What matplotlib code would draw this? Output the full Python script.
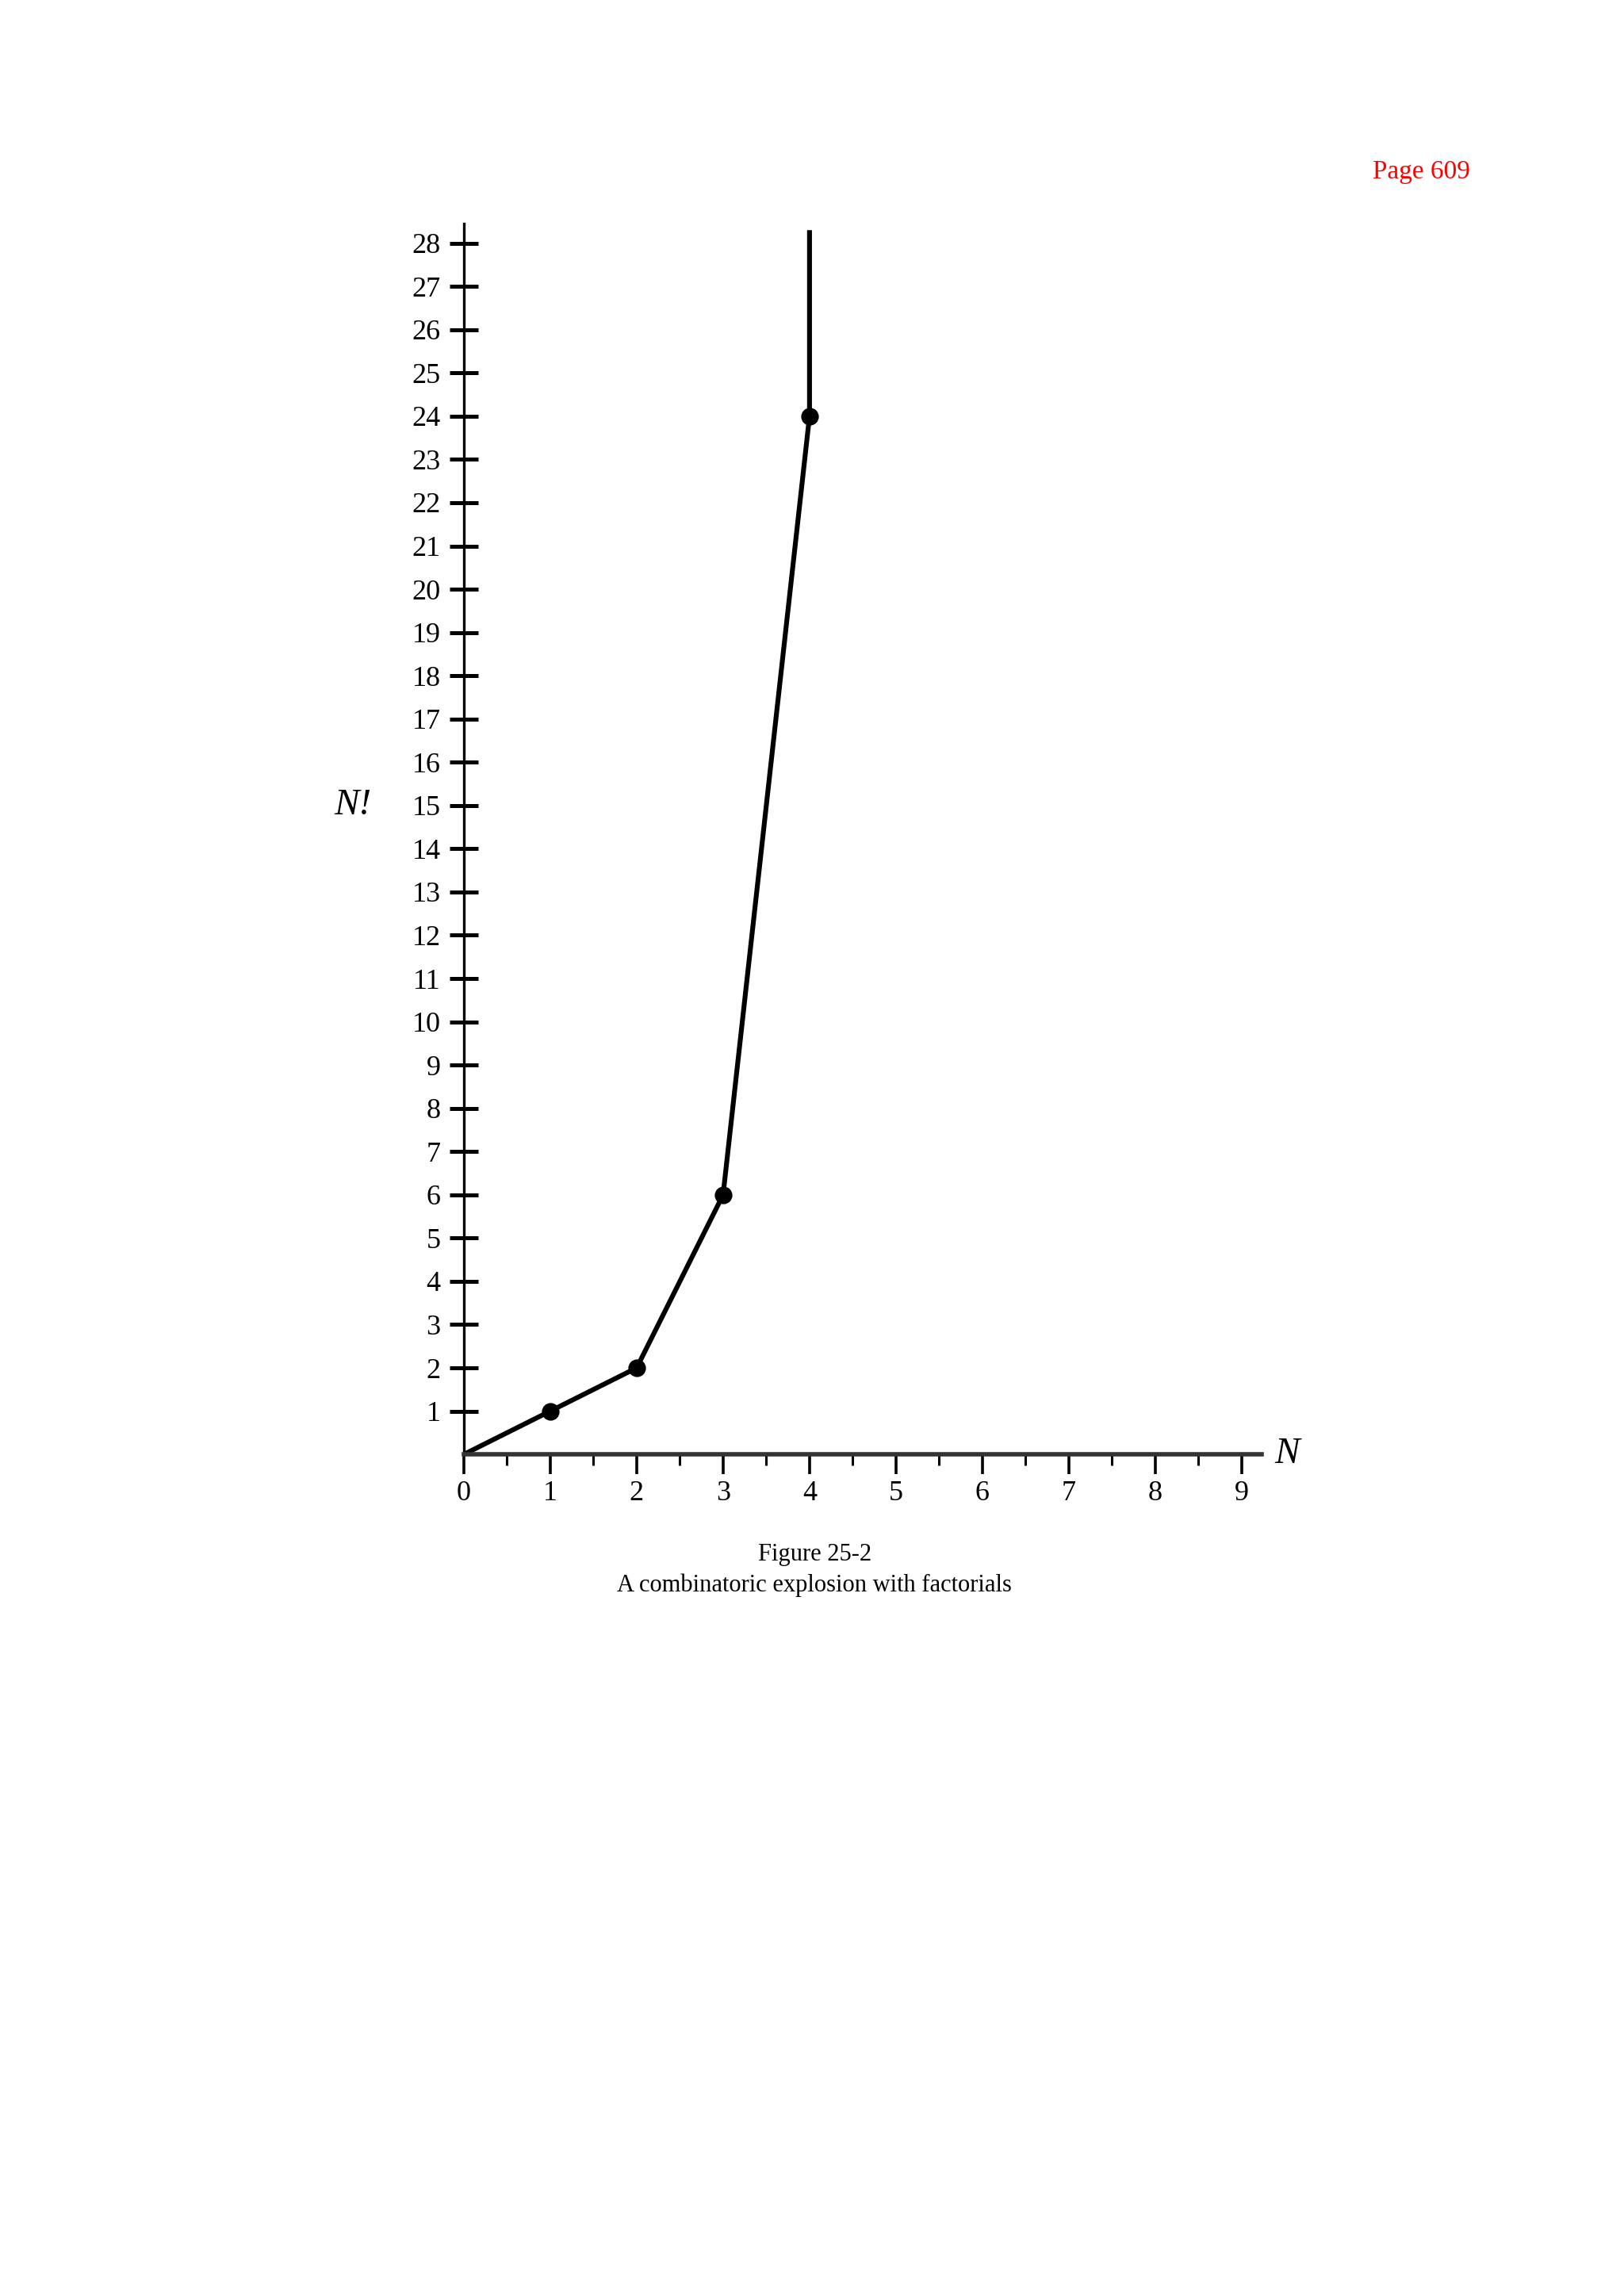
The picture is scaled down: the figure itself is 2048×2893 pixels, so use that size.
import matplotlib
matplotlib.use("Agg")
import matplotlib.pyplot as plt
import numpy as np

n_values = [0, 1, 2, 3, 4, 4]
fact_values = [0, 1, 2, 6, 24, 28.3]
dot_n = [1, 2, 3, 4]
dot_fact = [1, 2, 6, 24]
x_ticks = list(range(10))
y_ticks = list(range(1, 29))

plt.rcParams['font.family'] = ['Liberation Serif', 'DejaVu Serif']

fig = plt.figure(figsize=(10.24, 14.465), dpi=200)
ax = fig.add_axes([0.2856, 0.366, 0.4912, 0.5365])

ax.plot(n_values, fact_values, color='black', linewidth=2.2, solid_capstyle='butt')
ax.plot(dot_n, dot_fact, 'o', color='black', markersize=7)

ax.set_xlim(0, 9.23)
ax.set_ylim(0, 28.45)
ax.spines['top'].set_visible(False)
ax.spines['right'].set_visible(False)
ax.spines['left'].set_linewidth(1.2)
ax.spines['bottom'].set_linewidth(2.0)
ax.spines['bottom'].set_color('#333333')

ax.set_xticks(x_ticks)
ax.set_xticks(np.arange(0.5, 9.5, 1.0), minor=True)
ax.set_yticks(y_ticks)
ax.tick_params(axis='x', which='major', direction='out', length=9, width=1.3, labelsize=13, pad=3)
ax.tick_params(axis='x', which='minor', direction='out', length=5, width=1.1)
ax.tick_params(axis='y', which='major', direction='inout', length=13, width=1.8, labelsize=13, pad=4)

ax.text(9.38, 0, 'N', fontsize=17, style='italic', ha='left', va='center')
ax.text(-1.28, 15, 'N!', fontsize=17, style='italic', ha='center', va='center')

fig.text(0.875, 0.925, 'Page 609', color='red', fontsize=12, ha='center', va='center')
fig.text(0.5015, 0.3225, 'Figure 25-2', fontsize=11, ha='center', va='center')
fig.text(0.5015, 0.309, 'A combinatoric explosion with factorials', fontsize=11, ha='center', va='center')

fig.savefig('out.png', dpi=200)
